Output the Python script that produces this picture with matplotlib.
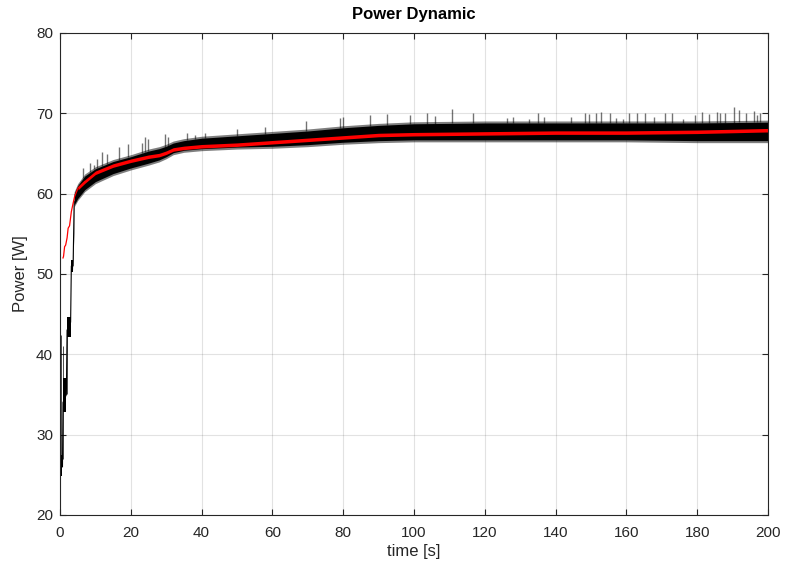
import numpy as np
import matplotlib
matplotlib.use("Agg")
import matplotlib.pyplot as plt

plt.rcParams['font.family'] = ['Liberation Sans', 'DejaVu Sans']

# ---- data ----
# black (measured power) envelope after the start-up steps
t_env = [3.7, 4.0, 5.0, 7.0, 10, 15, 20, 25, 28, 30, 32, 35, 40, 50, 60, 70, 80, 90, 100, 120, 140, 160, 180, 200]
black_lo = [50.5, 58.6, 59.4, 60.5, 61.5, 62.5, 63.2, 63.8, 64.2, 64.6, 65.1, 65.4, 65.6, 65.8, 65.9, 66.1, 66.4, 66.6, 66.7, 66.7, 66.7, 66.7, 66.6, 66.6]
black_hi = [52.0, 60.0, 61.0, 62.2, 63.1, 64.0, 64.6, 65.3, 65.6, 65.9, 66.3, 66.6, 66.9, 67.2, 67.5, 67.8, 68.2, 68.5, 68.7, 68.8, 68.8, 68.8, 68.8, 68.9]

# start-up steps of the black signal
step_t0 = [0.0, 0.85, 2.0, 3.0]
step_t1 = [0.7, 1.8, 3.0, 3.7]
step_lo = [24.8, 32.8, 42.2, 50.2]
step_hi = [27.5, 37.0, 44.6, 51.8]
conn_t = [0.7, 0.85, 1.8, 2.0, 3.0, 3.2, 3.7, 4.0]
conn_y = [26.0, 34.0, 35.0, 43.0, 44.0, 51.0, 51.0, 59.0]
early_spike_t = [0.37, 0.85, 1.9]
early_spike_lo = [25.0, 27.0, 35.0]
early_spike_hi = [42.4, 41.0, 44.0]

# spikes above the band
spike_t = [6.6, 8.5, 9.7, 10.4, 11.8, 13.2, 16.7, 19.3, 23.3, 24.0, 24.8, 29.7, 30.4, 35.8, 38.0, 41.0,
           50.0, 58.0, 69.5, 79.0, 80.0, 87.6, 92.5, 98.9, 103.6, 106.0, 110.6, 116.6, 126.2, 128.0, 132.6,
           135.0, 136.7, 144.3, 148.3, 149.5, 151.3, 152.8, 155.4, 157.0, 159.1, 160.8, 162.9, 165.3, 167.8,
           170.9, 173.0, 175.9, 179.4, 181.4, 183.4, 185.5, 186.4, 187.9, 190.4, 191.9, 193.8, 196.0, 196.8, 197.7]
spike_top = [63.2, 63.8, 63.6, 64.3, 65.2, 65.0, 65.85, 66.2, 66.3, 67.0, 66.8, 67.4, 67.0, 67.6, 67.3, 67.6,
             68.0, 68.3, 69.1, 69.4, 69.6, 69.8, 69.9, 69.8, 70.1, 69.7, 70.6, 70.1, 69.4, 69.5, 69.3,
             70.1, 69.6, 69.6, 70.0, 69.9, 70.0, 70.2, 70.0, 69.4, 69.3, 70.1, 70.0, 70.0, 69.5,
             70.0, 70.0, 69.3, 69.8, 70.2, 69.9, 70.2, 70.0, 70.0, 70.8, 70.4, 70.0, 70.3, 69.8, 70.0]

# red (filtered) signal
t_red = [0.85, 1.0, 1.3, 1.6, 2.0, 2.3, 2.7, 3.2, 3.7, 4.1, 5.1, 7, 10, 15, 20, 25, 28, 30, 32, 35, 40, 50,
         60, 70, 80, 90, 100, 120, 140, 160, 180, 200]
red = [52.0, 52.2, 53.4, 53.6, 54.5, 55.7, 56.0, 57.75, 58.8, 59.6, 60.7, 61.5, 62.6, 63.5, 64.1, 64.6, 64.8,
       65.1, 65.5, 65.7, 65.9, 66.1, 66.4, 66.7, 67.0, 67.3, 67.4, 67.5, 67.6, 67.6, 67.7, 67.9]

x_ticks = [0, 20, 40, 60, 80, 100, 120, 140, 160, 180, 200]
y_ticks = [20, 30, 40, 50, 60, 70, 80]

# ---- figure ----
fig = plt.figure(figsize=(7.87, 5.68), dpi=100)
ax = fig.add_axes([60/787, 1 - 515/568, 708/787, 482/568])

txt = '#262626'
ax.grid(True, color='#262626', alpha=0.13, lw=0.8)
ax.set_axisbelow(True)

# black band
ax.fill_between(t_env, np.array(black_lo) - 0.25, np.array(black_hi) + 0.25, color='black', alpha=0.5, lw=0)
ax.fill_between(t_env, black_lo, black_hi, color='black', lw=0)
for a, b, lo, hi in zip(step_t0, step_t1, step_lo, step_hi):
    ax.fill_between([a, b], [lo, lo], [hi, hi], color='black', lw=0)
ax.plot(conn_t, conn_y, color='black', lw=0.8)
ax.vlines(early_spike_t, early_spike_lo, early_spike_hi, color='black', lw=0.7, alpha=0.7)
ax.vlines(spike_t, np.interp(spike_t, t_env, black_hi), spike_top, color='black', lw=1.0, alpha=0.55)

# red line
red_arr = np.array(red)
t_red_arr = np.array(t_red)
ax.plot(t_red_arr[t_red_arr <= 7], red_arr[t_red_arr <= 7], color='red', lw=0.9)
m = t_red_arr >= 5.1
ax.fill_between(t_red_arr[m], red_arr[m] - 0.22, red_arr[m] + 0.22, color='red', lw=0)

ax.set_xlim(0, 200)
ax.set_ylim(20, 80)
ax.set_xticks(x_ticks)
ax.set_yticks(y_ticks)
ax.tick_params(direction='in', top=True, right=True, length=4, width=0.8, colors=txt,
               labelsize=11, labelcolor=txt)
ax.tick_params(axis='x', pad=8)
ax.tick_params(axis='y', pad=5)
for s in ax.spines.values():
    s.set_color(txt)
    s.set_linewidth(0.8)

ax.set_title('Power Dynamic', fontsize=12, fontweight='bold', color='black', pad=10)
ax.set_xlabel('time [s]', fontsize=12, color=txt, labelpad=3)
ax.set_ylabel('Power [W]', fontsize=12, color=txt, labelpad=6)

fig.savefig('out.png', dpi=100)
